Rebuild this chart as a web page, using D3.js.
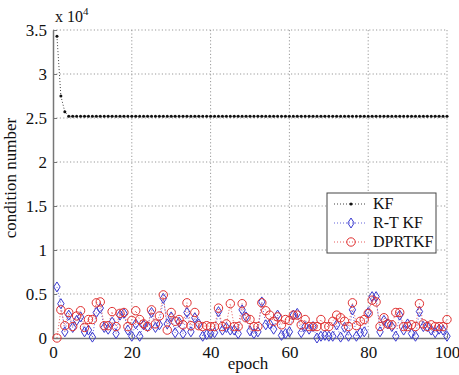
<!DOCTYPE html>
<html>
<head>
<meta charset="utf-8">
<script src="https://cdn.jsdelivr.net/npm/d3@7"></script>
<style>
  body { margin: 0; background: #fff; }
  svg text { font-family: "Times New Roman", "Liberation Serif", "DejaVu Serif", serif !important; }
</style>
</head>
<body>
<div id="chart"></div>
<script>
// values in units of 1e4
const epochs = d3.range(1, 101);
const kfHead = [3.43, 2.75, 2.57];
const kfTail = 2.52;
const kf = epochs.map((e, i) => i < kfHead.length ? kfHead[i] : kfTail);

const rtkf = [
  0.58, 0.39, 0.07, 0.26, 0.12, 0.20, 0.24, 0.07, 0.09, 0.01,
  0.29, 0.34, 0.12, 0.10, 0.18, 0.05, 0.26, 0.28, 0.09, 0.02,
  0.16, 0.02, 0.15, 0.13, 0.29, 0.12, 0.15, 0.45, 0.16, 0.24,
  0.06, 0.18, 0.05, 0.29, 0.07, 0.23, 0.16, 0.02, 0.04, 0.05,
  0.06, 0.30, 0.09, 0.12, 0.09, 0.09, 0.05, 0.32, 0.24, 0.08,
  0.05, 0.07, 0.41, 0.15, 0.16, 0.10, 0.26, 0.03, 0.05, 0.07,
  0.26, 0.28, 0.06, 0.13, 0.10, 0.13, 0.00, 0.02, 0.03, 0.02,
  0.02, 0.15, 0.01, 0.12, 0.02, 0.32, 0.02, 0.06, 0.07, 0.29,
  0.47, 0.47, 0.07, 0.20, 0.16, 0.13, 0.02, 0.26, 0.09, 0.16,
  0.05, 0.02, 0.30, 0.13, 0.13, 0.09, 0.06, 0.10, 0.09, 0.02
];

const dprtkf = [
  0.00, 0.32, 0.14, 0.29, 0.13, 0.25, 0.31, 0.12, 0.21, 0.21,
  0.40, 0.41, 0.14, 0.14, 0.30, 0.13, 0.28, 0.29, 0.13, 0.20,
  0.31, 0.21, 0.16, 0.13, 0.32, 0.16, 0.25, 0.49, 0.09, 0.29,
  0.19, 0.21, 0.15, 0.40, 0.14, 0.29, 0.14, 0.13, 0.14, 0.13,
  0.13, 0.34, 0.13, 0.16, 0.39, 0.13, 0.13, 0.39, 0.23, 0.21,
  0.13, 0.13, 0.40, 0.31, 0.26, 0.19, 0.24, 0.15, 0.21, 0.20,
  0.26, 0.26, 0.15, 0.21, 0.13, 0.13, 0.13, 0.21, 0.13, 0.13,
  0.19, 0.26, 0.23, 0.19, 0.13, 0.40, 0.14, 0.19, 0.21, 0.28,
  0.43, 0.41, 0.13, 0.23, 0.16, 0.15, 0.29, 0.29, 0.13, 0.13,
  0.15, 0.13, 0.39, 0.16, 0.13, 0.15, 0.13, 0.13, 0.13, 0.21
];

const xTicks = [0, 20, 40, 60, 80, 100];
const yTicks = [0, 0.5, 1, 1.5, 2, 2.5, 3, 3.5];
const seriesNames = ["KF", "R-T KF", "DPRTKF"];

const W = 459, H = 375;
const margin = { top: 30, right: 12, bottom: 37, left: 53 };
const iw = W - margin.left - margin.right;
const ih = H - margin.top - margin.bottom;
const serif = "'Times New Roman', 'Liberation Serif', serif";

const svg = d3.select("#chart").append("svg")
  .attr("width", W).attr("height", H)
  .attr("font-family", serif);

const g = svg.append("g")
  .attr("transform", "translate(" + margin.left + "," + margin.top + ")");

const x = d3.scaleLinear().domain([0, 100]).range([0, iw]);
const y = d3.scaleLinear().domain([0, 3.5]).range([ih, 0]);

// grid
g.append("g").selectAll("line").data(xTicks.slice(1)).enter().append("line")
  .attr("x1", d => x(d)).attr("x2", d => x(d))
  .attr("y1", 0).attr("y2", ih)
  .attr("stroke", "#999").attr("stroke-dasharray", "1.2,2.2");
g.append("g").selectAll("line").data(yTicks.slice(1)).enter().append("line")
  .attr("x1", 0).attr("x2", iw)
  .attr("y1", d => y(d)).attr("y2", d => y(d))
  .attr("stroke", "#999").attr("stroke-dasharray", "1.2,2.2");

// axes
const xAxis = g.append("g").attr("transform", "translate(0," + ih + ")")
  .call(d3.axisBottom(x).tickValues(xTicks).tickSizeInner(-4).tickSizeOuter(0).tickPadding(8));
const yAxis = g.append("g")
  .call(d3.axisLeft(y).tickValues(yTicks).tickFormat(d3.format("")).tickSizeInner(-4).tickSizeOuter(0).tickPadding(6));
[xAxis, yAxis].forEach(a => {
  a.attr("font-family", serif).attr("font-size", 17);
  a.select(".domain").attr("stroke", "#777").attr("stroke-width", 1.5);
  a.selectAll(".tick line").attr("stroke", "#777");
  a.selectAll("text").attr("fill", "#111");
});

// series
const line = d3.line().x((d, i) => x(epochs[i])).y(d => y(d));
const colKF = "#111", colRT = "#3a3ad0", colDP = "#e03030";

g.append("path").datum(rtkf).attr("d", line).attr("fill", "none")
  .attr("stroke", colRT).attr("stroke-width", 0.8).attr("stroke-dasharray", "1,2");
g.append("path").datum(dprtkf).attr("d", line).attr("fill", "none")
  .attr("stroke", colDP).attr("stroke-width", 0.8).attr("stroke-dasharray", "1,2");
g.append("path").datum(kf).attr("d", line).attr("fill", "none")
  .attr("stroke", colKF).attr("stroke-width", 0.8).attr("stroke-dasharray", "1,2");

const diamond = (cx, cy, r) => "M" + cx + "," + (cy - r * 1.25) + "L" + (cx + r * 0.8) + "," + cy +
  "L" + cx + "," + (cy + r * 1.25) + "L" + (cx - r * 0.8) + "," + cy + "Z";

g.append("g").selectAll("path").data(rtkf).enter().append("path")
  .attr("d", (d, i) => diamond(x(epochs[i]), y(d), 4))
  .attr("fill", "none").attr("stroke", colRT).attr("stroke-width", 1);
g.append("g").selectAll("circle").data(dprtkf).enter().append("circle")
  .attr("cx", (d, i) => x(epochs[i])).attr("cy", d => y(d)).attr("r", 4.2)
  .attr("fill", "none").attr("stroke", colDP).attr("stroke-width", 1);
g.append("g").selectAll("circle").data(kf).enter().append("circle")
  .attr("cx", (d, i) => x(epochs[i])).attr("cy", d => y(d)).attr("r", 1.5)
  .attr("fill", colKF);

// exponent label
const ex = svg.append("text").attr("x", 55).attr("y", 22)
  .attr("font-size", 16).attr("fill", "#111");
ex.append("tspan").text("x 10");
ex.append("tspan").attr("dy", -7).attr("font-size", 11).text("4");

// axis titles
svg.append("text").attr("x", margin.left + iw / 2 - 2).attr("y", 369)
  .attr("text-anchor", "middle").attr("font-size", 17).attr("fill", "#111").text("epoch");
svg.append("text").attr("transform", "translate(16," + (margin.top + ih / 2 - 6) + ") rotate(-90)")
  .attr("text-anchor", "middle").attr("font-size", 17).attr("fill", "#111").text("condition number");

// legend
const lg = svg.append("g").attr("transform", "translate(327,193)");
lg.append("rect").attr("width", 109).attr("height", 60)
  .attr("fill", "#fff").attr("stroke", "#444").attr("stroke-width", 1);
seriesNames.forEach((name, i) => {
  const ly = 11 + i * 19;
  const col = [colKF, colRT, colDP][i];
  lg.append("line").attr("x1", 7).attr("x2", 38).attr("y1", ly).attr("y2", ly)
    .attr("stroke", col).attr("stroke-width", 0.8).attr("stroke-dasharray", "1,2");
  if (i === 0) lg.append("circle").attr("cx", 24).attr("cy", ly).attr("r", 1.5).attr("fill", col);
  if (i === 1) lg.append("path").attr("d", diamond(24, ly, 4)).attr("fill", "none").attr("stroke", col);
  if (i === 2) lg.append("circle").attr("cx", 24).attr("cy", ly).attr("r", 4.2).attr("fill", "none").attr("stroke", col);
  lg.append("text").attr("x", 46).attr("y", ly + 5).attr("font-size", 16).attr("fill", "#111").text(name);
});
</script>
</body>
</html>
